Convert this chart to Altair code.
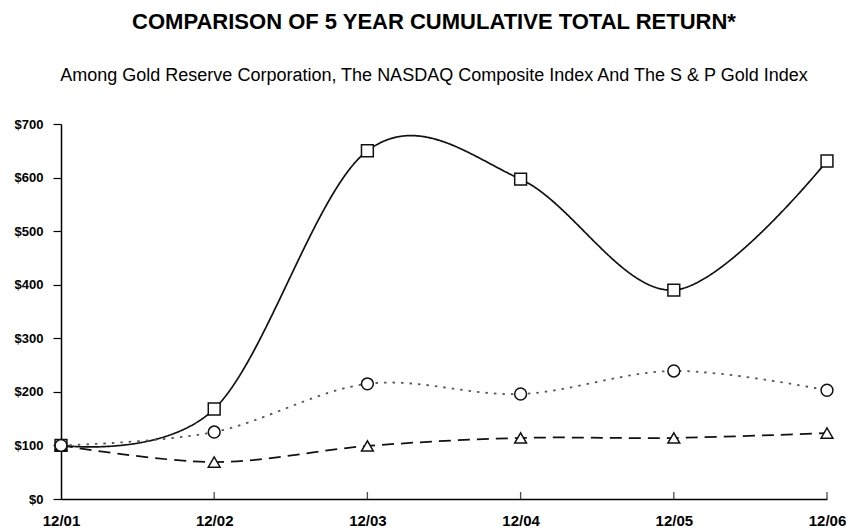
import altair as alt
import pandas as pd

dates = ["12/01", "12/02", "12/03", "12/04", "12/05", "12/06"]
series_names = ["Gold Reserve Corporation", "NASDAQ Composite", "S & P Gold Index"]
gold_reserve = [100, 168, 650, 597, 390, 631]
nasdaq = [100, 69, 99, 114, 114, 123]
sp_gold = [100, 125, 215, 196, 239, 203]
y_ticks = [0, 100, 200, 300, 400, 500, 600, 700]

rows = []
for name, vals in zip(series_names, [gold_reserve, nasdaq, sp_gold]):
    for d, v in zip(dates, vals):
        rows.append({"date": d, "value": v, "series": name})
df = pd.DataFrame(rows)
tick_df = pd.DataFrame({"date": dates[1:]})

x_scale = alt.Scale(type="point", padding=0)
x = alt.X("date:O", sort=dates, title=None, scale=x_scale,
          axis=alt.Axis(labelAngle=0, labelFont="Liberation Sans", labelFontSize=15,
                        labelFontWeight="bold", labelColor="black", domainColor="black",
                        domainWidth=1.5, ticks=False, labelPadding=14))
y = alt.Y("value:Q", title=None,
          scale=alt.Scale(domain=[0, 700], nice=False),
          axis=alt.Axis(values=y_ticks, format="$.0f",
                        labelFont="Liberation Sans", labelFontSize=13, labelFontWeight="bold",
                        labelColor="black", domainColor="black", domainWidth=1.5,
                        tickColor="black", tickSize=8, tickWidth=1.2, labelPadding=10, grid=False))

dash_scale = alt.Scale(domain=series_names, range=[[1, 0], [12, 7], [2.5, 6]])
width_scale = alt.Scale(domain=series_names, range=[1.7, 1.8, 2.5])
color_scale = alt.Scale(domain=series_names, range=["#111111", "#111111", "#555555"])
shape_scale = alt.Scale(domain=series_names, range=["square", "triangle-up", "circle"])

lines = alt.Chart(df).mark_line(interpolate="cardinal").encode(
    x=x, y=y,
    strokeDash=alt.StrokeDash("series:N", scale=dash_scale, legend=None),
    strokeWidth=alt.StrokeWidth("series:N", scale=width_scale, legend=None),
    color=alt.Color("series:N", scale=color_scale, legend=None),
)

points = alt.Chart(df).mark_point(filled=False, fill="white", fillOpacity=1,
                                   stroke="#111111", strokeWidth=1.5, size=140, opacity=1).encode(
    x=x, y=y,
    shape=alt.Shape("series:N", scale=shape_scale, legend=None),
)

inner_ticks = alt.Chart(tick_df).mark_tick(orient="vertical", size=7, thickness=1.3,
                                           color="black", yOffset=-3.5).encode(
    x=alt.X("date:O", sort=dates, scale=x_scale),
    y=alt.Y(datum=0),
)

chart = (lines + inner_ticks + points).properties(
    width=766, height=375,
    title=alt.TitleParams(
        text="COMPARISON OF 5 YEAR CUMULATIVE TOTAL RETURN*",
        subtitle="Among Gold Reserve Corporation, The NASDAQ Composite Index And The S & P Gold Index",
        font="Liberation Sans", fontSize=22, fontWeight="bold", color="black",
        subtitleFont="Liberation Sans", subtitleFontSize=18, subtitleColor="black",
        subtitlePadding=33, anchor="middle", offset=32, dx=-10,
    ),
    autosize=alt.AutoSizeParams(type="none"),
    padding={"left": 53, "top": 116, "right": 21, "bottom": 30},
).configure_view(stroke=None)

chart.save("out.html", embed_options={"renderer": "svg", "actions": False})
